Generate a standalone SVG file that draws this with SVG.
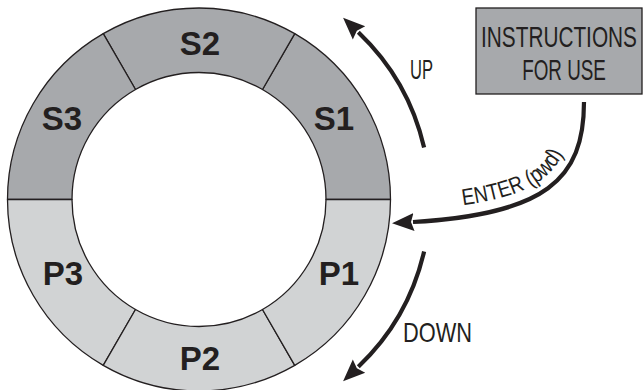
<svg xmlns="http://www.w3.org/2000/svg" width="643" height="390" viewBox="0 0 643 390">
  <style>
    .seg { stroke: #231f20; stroke-width: 1.3; stroke-linejoin: round; }
    .dark { fill: #a7a9ac; }
    .light { fill: #d1d3d4; }
    .lbl { font-family: "Liberation Sans", Arial, sans-serif; font-weight: bold; font-size: 33px; fill: #231f20; text-anchor: middle; }
    .thin { font-family: "Liberation Sans", Arial, sans-serif; font-size: 28px; fill: #231f20; }
    .mid { text-anchor: middle; }
    .arrow { fill: none; stroke: #231f20; stroke-width: 4.2; }
  </style>
  <defs>
    <marker id="head" markerUnits="userSpaceOnUse" markerWidth="24" markerHeight="22" refX="1" refY="9" orient="auto" viewBox="0 0 24 18">
      <path d="M0,0 L22,9 L0,18 L3,9 Z" fill="#231f20"/>
    </marker>
    <path id="enterPath" d="M413,210 C540,202 572,176 572,102"/>
  </defs>

  <rect width="643" height="390" fill="#ffffff"/>

  <g id="S1">
    <path class="seg dark" d="M390.5,199.5 A191.5,191.5 0 0 0 294.75,33.66 L262.5,89.51 A127,127 0 0 1 326,199.5 Z"/>
    <text class="lbl" x="334" y="130">S1</text>
  </g>
  <g id="S2">
    <path class="seg dark" d="M294.75,33.66 A191.5,191.5 0 0 0 103.25,33.66 L135.5,89.51 A127,127 0 0 1 262.5,89.51 Z"/>
    <text class="lbl" x="200" y="55">S2</text>
  </g>
  <g id="S3">
    <path class="seg dark" d="M103.25,33.66 A191.5,191.5 0 0 0 7.5,199.5 L72,199.5 A127,127 0 0 1 135.5,89.51 Z"/>
    <text class="lbl" x="62" y="130">S3</text>
  </g>
  <g id="P3">
    <path class="seg light" d="M7.5,199.5 A191.5,191.5 0 0 0 103.25,365.34 L135.5,309.49 A127,127 0 0 1 72,199.5 Z"/>
    <text class="lbl" x="63" y="285">P3</text>
  </g>
  <g id="P2">
    <path class="seg light" d="M103.25,365.34 A191.5,191.5 0 0 0 294.75,365.34 L262.5,309.49 A127,127 0 0 1 135.5,309.49 Z"/>
    <text class="lbl" x="200" y="370">P2</text>
  </g>
  <g id="P1">
    <path class="seg light" d="M294.75,365.34 A191.5,191.5 0 0 0 390.5,199.5 L326,199.5 A127,127 0 0 1 262.5,309.49 Z"/>
    <text class="lbl" x="339" y="285">P1</text>
  </g>

  <g id="instructions">
    <rect x="476" y="8" width="166" height="86" fill="#a7a9ac" stroke="#231f20" stroke-width="1.3"/>
    <text class="thin mid" transform="translate(559,47) scale(0.693,1)" style="font-size:30px">INSTRUCTIONS</text>
    <text class="thin mid" transform="translate(564,80) scale(0.65,1)" style="font-size:29px">FOR USE</text>
  </g>

  <g id="connectors">
    <path class="arrow" d="M424.1,147.5 A231,231 0 0 0 358.3,32.2" marker-end="url(#head)"/>
    <path class="arrow" d="M424.1,251.5 A231,231 0 0 1 358.3,366.8" marker-end="url(#head)"/>
    <path class="arrow" d="M584,102 C584,180 545,214 413,222" marker-end="url(#head)"/>
    <text class="thin" x="410" y="79" textLength="23" lengthAdjust="spacingAndGlyphs">UP</text>
    <text class="thin" x="403" y="342" textLength="69" lengthAdjust="spacingAndGlyphs">DOWN</text>
    <text class="thin" style="font-size:23px"><textPath href="#enterPath" startOffset="50" textLength="118" lengthAdjust="spacingAndGlyphs">ENTER (pwd)</textPath></text>
  </g>
</svg>
